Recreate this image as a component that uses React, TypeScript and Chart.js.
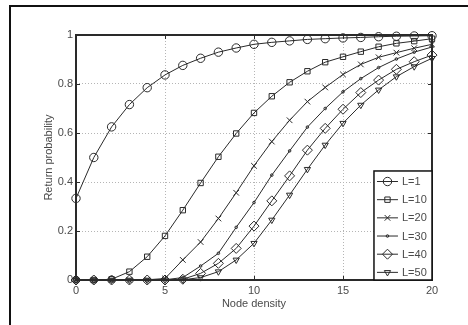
import React, { useEffect, useRef } from "react";
import { Chart, registerables } from "chart.js";
import { drawPoint } from "chart.js/helpers";

Chart.register(...registerables);

const nodeDensity = [0, 1, 2, 3, 4, 5, 6, 7, 8, 9, 10, 11, 12, 13, 14, 15, 16, 17, 18, 19, 20];
const seriesLabels = ["L=1", "L=10", "L=20", "L=30", "L=40", "L=50"];
const probL1 = [0.333, 0.5, 0.625, 0.716, 0.785, 0.837, 0.876, 0.905, 0.93, 0.947, 0.962, 0.97, 0.976, 0.982, 0.985, 0.988, 0.99, 0.993, 0.995, 0.996, 0.997];
const probL10 = [0, 0, 0.003, 0.034, 0.095, 0.18, 0.285, 0.396, 0.503, 0.598, 0.682, 0.75, 0.807, 0.852, 0.889, 0.911, 0.932, 0.952, 0.966, 0.975, 0.985];
const probL20 = [0, 0, 0, 0, 0.001, 0.006, 0.082, 0.155, 0.251, 0.356, 0.466, 0.565, 0.652, 0.728, 0.786, 0.839, 0.88, 0.909, 0.928, 0.946, 0.962];
const probL30 = [0, 0, 0, 0, 0, 0.001, 0.01, 0.057, 0.109, 0.215, 0.316, 0.428, 0.527, 0.624, 0.7, 0.768, 0.822, 0.867, 0.902, 0.93, 0.951];
const probL40 = [0, 0, 0, 0, 0, 0, 0.003, 0.027, 0.068, 0.129, 0.22, 0.323, 0.425, 0.53, 0.619, 0.697, 0.765, 0.816, 0.86, 0.891, 0.918];
const probL50 = [0, 0, 0, 0, 0, 0, 0.001, 0.01, 0.034, 0.082, 0.15, 0.245, 0.347, 0.452, 0.551, 0.64, 0.714, 0.776, 0.83, 0.871, 0.905];
const xTicks = [0, 5, 10, 15, 20];
const yTicks = [0, 0.2, 0.4, 0.6, 0.8, 1];

const seriesValues = [probL1, probL10, probL20, probL30, probL40, probL50];
const pointStyles = ["circle", "rect", "crossRot", "circle", "rectRot", "triangle"];
const pointRadii = [4.2, 3.8, 4, 1.3, 5, 3.6];
const pointRotations = [0, 0, 0, 0, 0, 180];

const INK = "#2a2a2a";
const TEXT = "#4a4a4a";
const FONT = "'Liberation Sans', Arial, sans-serif";

const framePlugin = {
  id: "matlabFrame",
  afterDraw(chart: any) {
    const ctx = chart.ctx;
    const a = chart.chartArea;
    const xs = chart.scales.x;
    const ys = chart.scales.y;
    ctx.save();
    // tick marks inside the box
    ctx.strokeStyle = INK;
    ctx.lineWidth = 1;
    const tl = 4;
    for (const v of xTicks) {
      const px = Math.round(xs.getPixelForValue(v)) + 0.5;
      ctx.beginPath();
      ctx.moveTo(px, a.bottom);
      ctx.lineTo(px, a.bottom - tl);
      ctx.moveTo(px, a.top);
      ctx.lineTo(px, a.top + tl);
      ctx.stroke();
    }
    for (const v of yTicks) {
      const py = Math.round(ys.getPixelForValue(v)) + 0.5;
      ctx.beginPath();
      ctx.moveTo(a.left, py);
      ctx.lineTo(a.left + tl, py);
      ctx.moveTo(a.right, py);
      ctx.lineTo(a.right - tl, py);
      ctx.stroke();
    }
    // box
    ctx.lineWidth = 2;
    ctx.strokeStyle = INK;
    ctx.strokeRect(a.left, a.top, a.right - a.left, a.bottom - a.top);

    // legend box
    const lx = a.left + (a.right - a.left) * 0.837;
    const ly = a.top + (a.bottom - a.top) * 0.555;
    const lw = a.right - lx;
    const lh = a.bottom - ly;
    ctx.fillStyle = "#ffffff";
    ctx.fillRect(lx, ly, lw, lh);
    ctx.lineWidth = 1.5;
    ctx.strokeStyle = "#111";
    ctx.strokeRect(lx, ly, lw, lh);
    const rowH = lh / seriesLabels.length;
    ctx.font = `11px ${FONT}`;
    ctx.textBaseline = "middle";
    ctx.textAlign = "left";
    seriesLabels.forEach((lab, i) => {
      const cy = ly + rowH * (i + 0.58);
      const x0 = lx + 3;
      const x1 = lx + 24;
      ctx.strokeStyle = INK;
      ctx.lineWidth = 1;
      ctx.beginPath();
      ctx.moveTo(x0, cy);
      ctx.lineTo(x1, cy);
      ctx.stroke();
      ctx.fillStyle = "rgba(0,0,0,0)";
      drawPoint(
        ctx,
        {
          pointStyle: pointStyles[i] as any,
          radius: pointRadii[i],
          rotation: pointRotations[i],
          borderWidth: 1,
        } as any,
        (x0 + x1) / 2,
        cy
      );
      ctx.fillStyle = TEXT;
      ctx.fillText(lab, x1 + 4, cy + 0.5);
    });
    ctx.restore();
  },
};

export default function App() {
  const canvasRef = useRef<HTMLCanvasElement | null>(null);

  useEffect(() => {
    const canvas = canvasRef.current;
    if (!canvas) return;
    const chart = new Chart(canvas, {
      type: "line",
      data: {
        labels: nodeDensity,
        datasets: seriesLabels.map((lab, i) => ({
          label: lab,
          data: nodeDensity.map((x, j) => ({ x, y: seriesValues[i][j] })),
          borderColor: INK,
          borderWidth: 1,
          pointStyle: pointStyles[i] as any,
          pointRadius: pointRadii[i],
          pointRotation: pointRotations[i],
          pointBorderColor: INK,
          pointBackgroundColor: "rgba(0,0,0,0)",
          pointBorderWidth: 1,
          tension: 0,
          fill: false,
          clip: false as any,
        })),
      },
      options: {
        animation: false,
        responsive: false,
        devicePixelRatio: 1,
        layout: { padding: { left: 42, right: 36, top: 35, bottom: 14 } },
        plugins: {
          legend: { display: false },
          tooltip: { enabled: false },
        },
        scales: {
          x: {
            type: "linear",
            min: 0,
            max: 20,
            afterBuildTicks: (s: any) => {
              s.ticks = xTicks.map((v) => ({ value: v }));
            },
            afterFit: (s: any) => {
              s.height = 31;
            },
            grid: {
              color: (c: any) =>
                c.tick && (c.tick.value === 0 || c.tick.value === 20) ? "rgba(0,0,0,0)" : "#b5b5b5",
              lineWidth: 1,
              drawTicks: false,
            },
            border: { display: false, dash: [1, 2] },
            ticks: {
              padding: 4,
              color: TEXT,
              font: { family: FONT, size: 11 },
              maxRotation: 0,
              callback: (v: any) => String(v),
            },
            title: {
              display: true,
              text: "Node density",
              color: TEXT,
              font: { family: FONT, size: 11 },
              padding: 0,
            },
          },
          y: {
            type: "linear",
            min: 0,
            max: 1,
            afterBuildTicks: (s: any) => {
              s.ticks = yTicks.map((v) => ({ value: v }));
            },
            afterFit: (s: any) => {
              s.width = 34;
            },
            grid: {
              color: (c: any) =>
                c.tick && (c.tick.value === 0 || c.tick.value === 1) ? "rgba(0,0,0,0)" : "#b5b5b5",
              lineWidth: 1,
              drawTicks: false,
            },
            border: { display: false, dash: [1, 2] },
            ticks: {
              padding: 3,
              color: TEXT,
              font: { family: FONT, size: 11 },
              callback: (v: any) => String(Number(Number(v).toFixed(1))),
            },
            title: {
              display: true,
              text: "Return probability",
              color: TEXT,
              font: { family: FONT, size: 11 },
              padding: 0,
            },
          },
        },
      },
      plugins: [framePlugin],
    });
    return () => chart.destroy();
  }, []);

  return (
    <div style={{ position: "fixed", left: 0, top: 0, width: 468, height: 325, background: "#fff", overflow: "hidden" }}>
      <canvas ref={canvasRef} width={468} height={325} style={{ position: "absolute", left: 0, top: 0, width: 468, height: 325 }} />
      <div
        style={{
          position: "absolute",
          left: 9,
          top: 5,
          width: 480,
          height: 340,
          borderLeft: "2px solid #111",
          borderTop: "2px solid #111",
          pointerEvents: "none",
        }}
      />
    </div>
  );
}
